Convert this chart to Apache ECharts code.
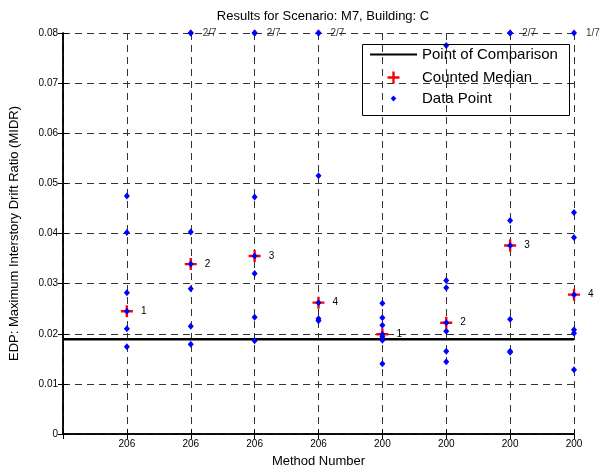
<!DOCTYPE html>
<html>
<head>
<meta charset="utf-8">
<script src="https://cdn.jsdelivr.net/npm/echarts@6/dist/echarts.min.js"></script>
<style>html,body{margin:0;padding:0;background:#fff;}#chart{width:601px;height:473px;}</style>
</head>
<body>
<div id="chart"></div>
<script>
// ---- data ----
const tickLabels = ['206', '206', '206', '206', '200', '200', '200', '200'];
const methodPositions = [1, 2, 3, 4, 5, 6, 7, 8];
const comparisonValue = 0.0189;
const yMax = 0.08;
const medians = [0.0245, 0.0339, 0.0355, 0.0262, 0.0199, 0.0222, 0.0376, 0.0278];
const medianCounts = ['1', '2', '3', '4', '1', '2', '3', '4'];
const overflowLabels = ['', '2/7', '2/7', '2/7', '', '', '2/7', '1/7'];
const method1Points = [0.0475, 0.0402, 0.0282, 0.0245, 0.0210, 0.0174];
const method2Points = [0.08, 0.08, 0.0403, 0.0339, 0.0290, 0.0215, 0.0179];
const method3Points = [0.08, 0.08, 0.0473, 0.0355, 0.0320, 0.0233, 0.0186];
const method4Points = [0.08, 0.08, 0.0515, 0.0262, 0.0230, 0.0226];
const method5Points = [0.0261, 0.0232, 0.0217, 0.0199, 0.0194, 0.0187, 0.0140];
const method6Points = [0.0775, 0.0306, 0.0292, 0.0222, 0.0205, 0.0165, 0.0144];
const method7Points = [0.08, 0.08, 0.0426, 0.0376, 0.0229, 0.0165, 0.0163];
const method8Points = [0.08, 0.0442, 0.0392, 0.0278, 0.0208, 0.0201, 0.0128];
const allMethodPoints = [method1Points, method2Points, method3Points, method4Points,
                         method5Points, method6Points, method7Points, method8Points];

// ---- build ----
const dataPoints = [];
allMethodPoints.forEach((arr, i) => arr.forEach(v => dataPoints.push([methodPositions[i], v])));
const medianData = medians.map((v, i) => ({ value: [methodPositions[i], v], label: { formatter: medianCounts[i] } }));
const overflowData = [];
overflowLabels.forEach((t, i) => { if (t) overflowData.push({ value: [methodPositions[i], yMax], label: { formatter: t } }); });

const plusPath = 'path://M4.8,0 H7.2 V4.8 H12 V7.2 H7.2 V12 H4.8 V7.2 H0 V4.8 H4.8 Z';
// legend icons: 47x14 boxes (corner moveTo's fix the bounding box)
const legendLineIcon = 'path://M0,0 M47,14 M0,6 H47 V8 H0 Z';
const legendPlusIcon = 'path://M0,0 M47,14 M22.3,1 H24.7 V5.8 H29.5 V8.2 H24.7 V13 H22.3 V8.2 H17.5 V5.8 H22.3 Z';
const legendDotIcon = 'path://M0,0 M47,14 M23.5,4 L26.3,7 L23.5,10 L20.7,7 Z';
const gridDash = { show: true, lineStyle: { color: '#333', width: 1, type: [7, 5] } };
const font = 'Liberation Sans, Arial, sans-serif';
const legendText = { fontSize: 15, color: '#000', fontFamily: font };

const chart = echarts.init(document.getElementById('chart'), null, { renderer: 'canvas' });
chart.setOption({
  backgroundColor: '#fff',
  animation: false,
  textStyle: { fontFamily: font },
  title: {
    text: 'Results for Scenario: M7, Building: C',
    left: 318, top: 5, textAlign: 'center',
    textStyle: { fontSize: 13, fontWeight: 'normal', color: '#000', fontFamily: font }
  },
  grid: { left: 62, right: 27, top: 33, bottom: 37 },
  xAxis: [{
    type: 'value', min: 0, max: 8, interval: 1, position: 'bottom',
    name: 'Method Number', nameLocation: 'middle', nameGap: 21,
    nameTextStyle: { fontSize: 13, color: '#000', fontFamily: font },
    axisLine: { show: true, lineStyle: { color: '#000', width: 1.5 } },
    axisTick: { show: true, inside: true, length: 5, lineStyle: { color: '#000' } },
    axisLabel: { fontSize: 10, color: '#000', margin: 5, fontFamily: font,
      formatter: v => (v >= 1 && v <= 8) ? tickLabels[Math.round(v) - 1] : '' },
    splitLine: gridDash
  }, {
    type: 'value', min: 0, max: 8, interval: 1, position: 'top',
    axisLine: { show: true, lineStyle: { color: '#000', width: 1.5 } },
    axisTick: { show: true, inside: true, length: 5, lineStyle: { color: '#000' } },
    axisLabel: { show: false }, splitLine: { show: false }
  }],
  yAxis: [{
    type: 'value', min: 0, max: yMax, interval: 0.01, position: 'left',
    name: 'EDP: Maximum Interstory Drift Ratio (MIDR)', nameLocation: 'middle', nameGap: 42,
    nameTextStyle: { fontSize: 13, color: '#000', fontFamily: font },
    axisLine: { show: true, lineStyle: { color: '#000', width: 1.5 } },
    axisTick: { show: true, inside: true, length: 5, lineStyle: { color: '#000' } },
    axisLabel: { fontSize: 10, color: '#000', margin: 5, fontFamily: font,
      formatter: v => Math.abs(v) < 1e-9 ? '0' : v.toFixed(2) },
    splitLine: gridDash
  }, {
    type: 'value', min: 0, max: yMax, interval: 0.01, position: 'right',
    axisLine: { show: true, lineStyle: { color: '#000', width: 1.5 } },
    axisTick: { show: true, inside: true, length: 5, lineStyle: { color: '#000' } },
    axisLabel: { show: false }, splitLine: { show: false }
  }],
  legend: [{
    data: [{ name: 'Point of Comparison', icon: legendLineIcon }], left: 370, top: 47, padding: 0,
    itemWidth: 47, itemHeight: 14, selectedMode: false, textStyle: legendText
  }, {
    data: [{ name: 'Counted Median', icon: legendPlusIcon }], left: 370, top: 70, padding: 0,
    itemWidth: 47, itemHeight: 14, selectedMode: false, textStyle: legendText
  }, {
    data: [{ name: 'Data Point', icon: legendDotIcon }], left: 370, top: 91, padding: 0,
    itemWidth: 47, itemHeight: 14, selectedMode: false, textStyle: legendText
  }],
  graphic: [{
    type: 'rect', left: 360, top: 42, z: 10,
    shape: { width: 207, height: 71 },
    style: { fill: null, stroke: '#000', lineWidth: 1 }
  }],
  series: [{
    name: 'Point of Comparison', type: 'line', xAxisIndex: 0, yAxisIndex: 0,
    data: [[0, comparisonValue], [8, comparisonValue]],
    symbol: 'none', lineStyle: { color: '#000', width: 2.5 }, itemStyle: { color: '#000' },
    z: 3
  }, {
    name: 'Counted Median', type: 'scatter', xAxisIndex: 0, yAxisIndex: 0,
    data: medianData, symbol: plusPath, symbolSize: 12,
    itemStyle: { color: '#ff0000', opacity: 1 },
    label: { show: true, position: 'right', distance: 8, fontSize: 10, color: '#000', fontFamily: font },
    z: 4, clip: false
  }, {
    name: 'Data Point', type: 'scatter', xAxisIndex: 0, yAxisIndex: 0,
    data: dataPoints, symbol: 'diamond', symbolSize: [6, 7],
    itemStyle: { color: '#0000ff', opacity: 1 },
    z: 5, clip: false
  }, {
    name: 'overflow', type: 'scatter', xAxisIndex: 0, yAxisIndex: 0,
    data: overflowData, symbolSize: 0,
    label: { show: true, position: 'right', distance: 12, fontSize: 10, color: '#000', fontFamily: font },
    z: 6, clip: false, silent: true
  }]
});
</script>
</body>
</html>
